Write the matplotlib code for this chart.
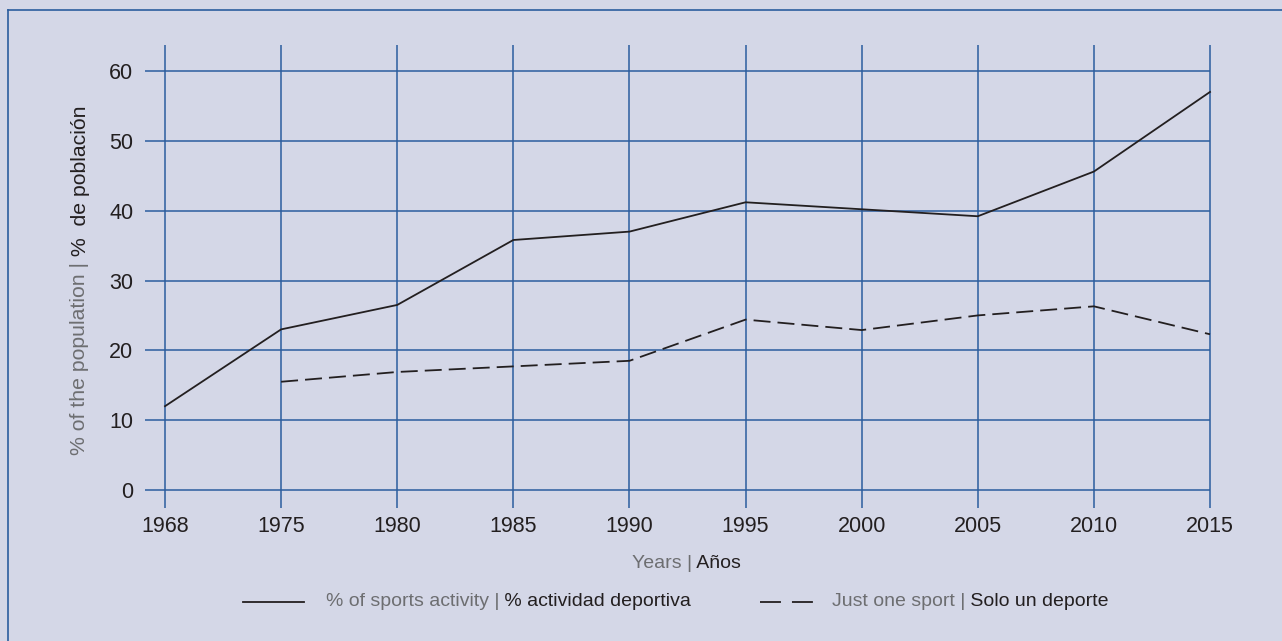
import matplotlib.pyplot as plt
from matplotlib.lines import Line2D

plt.rcParams['font.family'] = ['Liberation Sans', 'DejaVu Sans']

# datos
anios = ['1968', '1975', '1980', '1985', '1990', '1995', '2000', '2005', '2010', '2015']
actividad = [12, 23, 26.5, 35.8, 37, 41.2, 40.2, 39.2, 45.6, 57]
un_deporte = [None, 15.5, 16.9, 17.7, 18.5, 24.4, 22.9, 25, 26.3, 22.3]
yticks = [0, 10, 20, 30, 40, 50, 60]

fondo = '#d4d7e7'
azul = '#2b5d9e'
oscuro = '#231f20'
gris = '#6d6e71'

W, H = 1282, 641
fig = plt.figure(figsize=(W / 100, H / 100), dpi=100, facecolor=fondo)

# posicion del eje en pixeles: 1968 -> x=165, 2015 -> x=1210, 0 -> y=490, 60 -> y=71
x0, x1 = 145, 1210
y_bot, y_top = 508, 45
ax = fig.add_axes([x0 / W, 1 - y_bot / H, (x1 - x0) / W, (y_bot - y_top) / H])
ax.set_facecolor(fondo)
for s in ax.spines.values():
    s.set_visible(False)

xs = list(range(len(anios)))
px_x = (1210 - 165) / 9
px_y = (490 - 71) / 60
xmin = -(165 - x0) / px_x
ymin = -(y_bot - 490) / px_y
ymax = (490 - y_top) / px_y
ax.set_xlim(xmin, len(anios) - 1)
ax.set_ylim(ymin, ymax)

ax.hlines(yticks, xmin, len(anios) - 1, color=azul, lw=1.1, zorder=1, clip_on=False)
ax.vlines(xs, ymin, ymax, color=azul, lw=1.1, zorder=1, clip_on=False)

ax.plot(xs, actividad, color=oscuro, lw=1.3, zorder=3, clip_on=False)
xd = [x for x, v in zip(xs, un_deporte) if v is not None]
yd = [v for v in un_deporte if v is not None]
ax.plot(xd, yd, color=oscuro, lw=1.3, dashes=(9.4, 3.9), zorder=3, clip_on=False)

ax.set_xticks(xs)
ax.set_xticklabels(anios)
ax.set_yticks(yticks)
ax.tick_params(length=0, labelsize=15.5, colors=oscuro)
ax.tick_params(axis='x', pad=5.5)
ax.tick_params(axis='y', pad=8.5)


def texto_dos(x, y, a, b, size, rot=0):
    # texto en dos colores: a gris, b oscuro, unidos en (x, y) en pixeles
    if rot == 0:
        fig.text(x / W, 1 - y / H, a, color=gris, fontsize=size, ha='right', va='center')
        fig.text(x / W, 1 - y / H, b, color=oscuro, fontsize=size, ha='left', va='center')
    else:
        fig.text(x / W, 1 - y / H, a, color=gris, fontsize=size, rotation=90,
                 rotation_mode='anchor', ha='right', va='center')
        fig.text(x / W, 1 - y / H, b, color=oscuro, fontsize=size, rotation=90,
                 rotation_mode='anchor', ha='left', va='center')


texto_dos(80, 262, '% of the population |', ' %  de población', 15.3, rot=90)
texto_dos(692, 563, 'Years |', ' Años', 14)

# leyenda
fig.add_artist(Line2D([243 / W, 304 / W], [1 - 602 / H] * 2, color=oscuro, lw=1.3))
texto_dos(499, 602, '% of sports activity |', ' % actividad deportiva', 14)
fig.add_artist(Line2D([760 / W, 813 / W], [1 - 602 / H] * 2, color=oscuro, lw=1.3,
                      dashes=(11.6, 6.1)))
texto_dos(965, 602, 'Just one sport |', ' Solo un deporte', 14)

# borde
fig.add_artist(Line2D([8 / W, 8 / W], [0, 1 - 10 / H], color=azul, lw=1.2))
fig.add_artist(Line2D([8 / W, 1], [1 - 10 / H] * 2, color=azul, lw=1.2))

fig.savefig('out.png', dpi=100, facecolor=fondo)
